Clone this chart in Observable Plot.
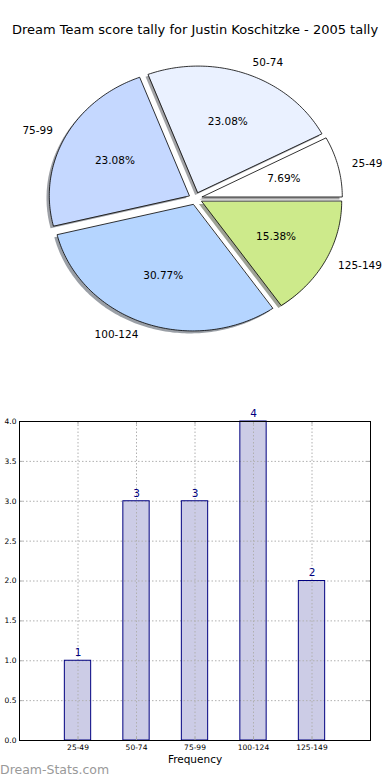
<!DOCTYPE html>
<html>
<head>
<meta charset="utf-8">
<script src="https://cdn.jsdelivr.net/npm/d3@7"></script>
<script src="https://cdn.jsdelivr.net/npm/@observablehq/plot@0.6"></script>
<style>
  html, body { margin: 0; padding: 0; background: #fff; }
  body { width: 390px; height: 780px; position: relative; overflow: hidden; font-family: "DejaVu Sans", sans-serif; }
  #title { position: absolute; left: 0; width: 390px; top: 22px; text-align: center; font-size: 13px; color: #000; line-height: 16px; }
  #pie { position: absolute; left: 0; top: 45px; }
  #bar { position: absolute; left: 0; top: 395px; }
  #mark { position: absolute; left: 0; top: 762px; font-size: 12.5px; color: #999; line-height: 16px; }
  svg { font-family: "DejaVu Sans", sans-serif; }
</style>
</head>
<body>
<div id="title">Dream Team score tally for Justin Koschitzke - 2005 tally</div>
<div id="pie"></div>
<div id="bar"></div>
<div id="mark">Dream-Stats.com</div>
<script>
const categories = ["25-49", "50-74", "75-99", "100-124", "125-149"];
const counts = [1, 3, 3, 4, 2];
const pieColors = ["#ffffff", "#eaf1ff", "#c5d8ff", "#b5d5ff", "#cdea8b"];
const yTicks = [0, 0.5, 1, 1.5, 2, 2.5, 3, 3.5, 4];
const explode = 0.05;

// ---------- Pie ----------
const total = d3.sum(counts);
let acc = 0;
const slices = categories.map((c, i) => {
  const a0 = acc / total * 2 * Math.PI;
  acc += counts[i];
  const a1 = acc / total * 2 * Math.PI;
  const mid = (a0 + a1) / 2;
  const ox = explode * Math.cos(mid), oy = explode * Math.sin(mid);
  const pts = [[ox, oy]];
  const n = Math.max(2, Math.ceil((a1 - a0) / (Math.PI / 180)));
  for (let k = 0; k <= n; k++) {
    const t = a0 + (a1 - a0) * k / n;
    pts.push([ox + Math.cos(t), oy + Math.sin(t)]);
  }
  return {cat: c, n: counts[i], pct: counts[i] / total * 100, mid, ox, oy, pts, color: pieColors[i]};
});

const shade = (c) => { const r = d3.rgb(c); return d3.rgb(r.r * 0.3, r.g * 0.3, r.b * 0.3).formatHex(); };

const pieMarks = [];
slices.forEach(s => {
  pieMarks.push(Plot.line(s.pts, {x: d => d[0], y: d => d[1], curve: "linear-closed", fill: shade(s.color), fillOpacity: 0.5, stroke: "none", dx: -2.8, dy: 2.5}));
  pieMarks.push(Plot.line(s.pts, {x: d => d[0], y: d => d[1], curve: "linear-closed", fill: s.color, stroke: "#000", strokeWidth: 0.8}));
});
const labelR = 1.1, pctR = 0.6;
const rightLabels = slices.filter(s => Math.cos(s.mid) >= 0);
const leftLabels = slices.filter(s => Math.cos(s.mid) < 0);
const lx = s => s.ox + labelR * Math.cos(s.mid), ly = s => s.oy + labelR * Math.sin(s.mid);
pieMarks.push(Plot.text(rightLabels, {x: lx, y: ly, text: "cat", textAnchor: "start", fontSize: 10.5, fill: "#000"}));
pieMarks.push(Plot.text(leftLabels, {x: lx, y: ly, text: "cat", textAnchor: "end", fontSize: 10.5, fill: "#000"}));
pieMarks.push(Plot.text(slices, {
  x: s => s.ox + pctR * Math.cos(s.mid), y: s => s.oy + pctR * Math.sin(s.mid),
  text: s => s.pct.toFixed(2) + "%", textAnchor: "middle", fontSize: 10.5, fill: "#000"
}));

const rx = 140, ry = 126.5, cxPx = 195, cyPx = 153, pieH = 320;
const pie = Plot.plot({
  width: 390, height: pieH,
  marginTop: 0, marginBottom: 0, marginLeft: 0, marginRight: 0,
  x: {domain: [-cxPx / rx, (390 - cxPx) / rx], axis: null},
  y: {domain: [-(pieH - cyPx) / ry, cyPx / ry], axis: null},
  marks: pieMarks
});
document.getElementById("pie").appendChild(pie);

// ---------- Bars ----------
const table = categories.map((c, i) => ({i, cat: c, n: counts[i]}));
const xIdx = table.map(d => d.i);
const bw = 0.225;
const gridStyle = {stroke: "#b0b0b0", strokeOpacity: 1, strokeWidth: 1, strokeDasharray: "1.5,2"};
const bar = Plot.plot({
  width: 390, height: 375,
  marginTop: 26, marginBottom: 30, marginLeft: 19, marginRight: 20,
  x: {domain: [-1, 5]},
  y: {domain: [0, 4]},
  marks: [
    Plot.rect(table, {x1: d => d.i - bw, x2: d => d.i + bw, y1: 0, y2: "n", fill: "navy", fillOpacity: 0.2}),
    Plot.gridY(yTicks, gridStyle),
    Plot.gridX(xIdx, gridStyle),
    Plot.rect(table, {x1: d => d.i - bw, x2: d => d.i + bw, y1: 0, y2: "n", fill: "none", stroke: "navy", strokeWidth: 1}),
    Plot.ruleY(yTicks, {y: d => d, x1: -1, x2: -0.94, stroke: "#aaa"}),
    Plot.ruleY(yTicks, {y: d => d, x1: 4.94, x2: 5, stroke: "#aaa"}),
    Plot.ruleX(xIdx, {x: d => d, y1: 0, y2: 0.04, stroke: "#aaa"}),
    Plot.ruleX(xIdx, {x: d => d, y1: 3.96, y2: 4, stroke: "#aaa"}),
    Plot.text(table, {x: "i", y: "n", text: d => String(d.n), dy: -8, fill: "navy", fontSize: 10.5}),
    Plot.axisY({ticks: yTicks, tickFormat: d3.format(".1f"), tickSize: 0, tickPadding: 3, fontSize: 7.5, label: null, color: "#000"}),
    Plot.axisX({ticks: xIdx, tickFormat: i => categories[i], tickSize: 0, tickPadding: 4, fontSize: 7.5, label: null}),
    Plot.text(["Frequency"], {frameAnchor: "bottom", text: d => d, dy: 22, fontSize: 10.5, fill: "#000"}),
    Plot.frame({stroke: "#000", strokeWidth: 1})
  ]
});
document.getElementById("bar").appendChild(bar);
</script>
</body>
</html>
